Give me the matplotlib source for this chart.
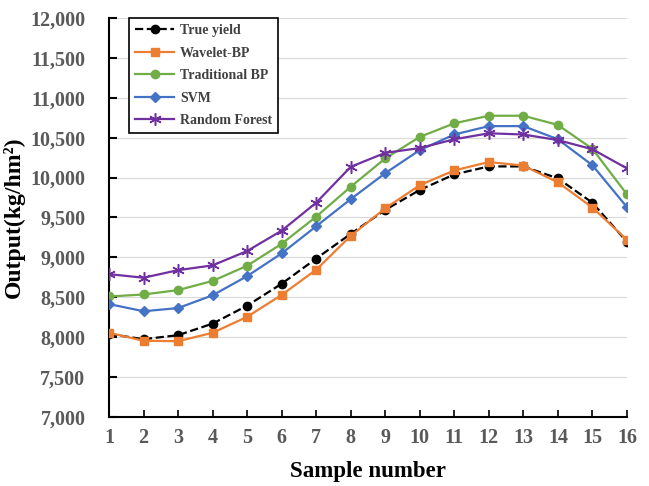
import matplotlib
matplotlib.use("Agg")
import matplotlib.pyplot as plt
from matplotlib.ticker import FuncFormatter

# Sample numbers and yields (kg/hm2)
samples = list(range(1, 17))
true_yield = [8040, 7975, 8025, 8170, 8395, 8670, 8985, 9295, 9595, 9845,
              10040, 10140, 10140, 9990, 9685, 9195]
wavelet_bp = [8055, 7955, 7950, 8055, 8255, 8530, 8845, 9270, 9615, 9905,
              10090, 10195, 10150, 9940, 9625, 9220]
traditional_bp = [8510, 8535, 8590, 8705, 8895, 9170, 9510, 9885, 10240, 10510,
                  10680, 10775, 10775, 10660, 10360, 9790]
svm = [8415, 8325, 8365, 8525, 8765, 9050, 9390, 9730, 10055, 10345,
       10540, 10645, 10645, 10480, 10155, 9630]
random_forest = [8790, 8745, 8840, 8900, 9080, 9335, 9685, 10135, 10310, 10370,
                 10480, 10555, 10540, 10470, 10355, 10115]

plt.rcParams['font.family'] = ['Liberation Serif', 'DejaVu Serif']
plt.rcParams['font.weight'] = 'bold'

fig = plt.figure(figsize=(6.49, 4.86), dpi=100)
ax = fig.add_axes([0.168, 0.142, 0.798, 0.821])

lw = 1.6
ax.plot(samples, true_yield, color='black', linestyle='--', marker='o',
        markersize=6, linewidth=lw, label='True yield', zorder=3)
ax.plot(samples, wavelet_bp, color='#ED7D31', marker='s',
        markersize=6, linewidth=lw, label='Wavelet-BP', zorder=4)
ax.plot(samples, traditional_bp, color='#70AD47', marker='o',
        markersize=6, linewidth=lw, label='Traditional BP', zorder=3)
ax.plot(samples, svm, color='#4472C4', marker='D',
        markersize=5, linewidth=lw, label='SVM', zorder=3)
ax.plot(samples, random_forest, color='#7030A0', marker=(6, 2, 0),
        markersize=9, markeredgewidth=1.1, linewidth=lw, label='Random Forest', zorder=3)

ax.set_xlim(1, 16)
ax.set_ylim(7000, 12000)
ax.set_xticks(samples)
ax.set_yticks(range(7000, 12001, 500))
ax.yaxis.set_major_formatter(FuncFormatter(lambda v, p: f'{int(v):,}'))

ax.grid(axis='y', color='#d9d9d9', linewidth=0.8)
ax.set_axisbelow(True)
for s in ['top', 'right']:
    ax.spines[s].set_visible(False)
for s in ['left', 'bottom']:
    ax.spines[s].set_linewidth(1.5)
    ax.spines[s].set_color('black')

ax.tick_params(axis='y', direction='in', length=6, width=1.5, pad=17,
               labelsize=14.5, labelcolor='#595959')
ax.tick_params(axis='x', direction='in', length=5, width=1.2, pad=8,
               labelsize=14.5, labelcolor='#595959')
for lab in ax.get_xticklabels() + ax.get_yticklabels():
    lab.set_fontweight('bold')

ax.set_xlabel('Sample number', fontsize=16.5, fontweight='bold', labelpad=9)
ax.set_ylabel('Output(kg/hm²)', fontsize=17, fontweight='bold', labelpad=4)

leg = ax.legend(loc='upper left', bbox_to_anchor=(0.039, 1.0), borderaxespad=0,
                fontsize=10, handlelength=2.8, labelspacing=0.68, handletextpad=0.4,
                borderpad=0.45, fancybox=False, framealpha=1, edgecolor='black')
leg.get_frame().set_linewidth(1.2)
for t in leg.get_texts():
    t.set_color('#404040')
    t.set_fontweight('bold')

fig.savefig('out.png', dpi=100)
